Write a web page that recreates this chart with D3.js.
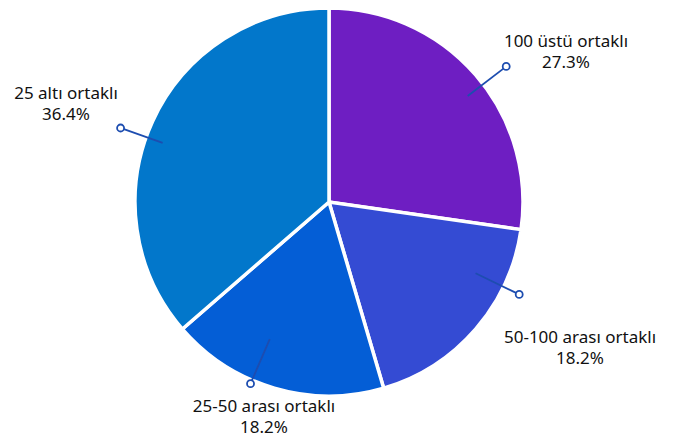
<!DOCTYPE html>
<html><head><meta charset="utf-8">
<script src="https://cdn.jsdelivr.net/npm/d3@7"></script>
<style>html,body{margin:0;padding:0;background:#fff;}svg{display:block;}</style>
</head><body>
<svg id="chart" width="675" height="442"></svg>
<script>
const categories = ["100 üstü ortaklı", "50-100 arası ortaklı", "25-50 arası ortaklı", "25 altı ortaklı"];
const values = [3, 2, 2, 4];
const percentLabels = ["27.3%", "18.2%", "18.2%", "36.4%"];
const colors = ["#6E1EC2", "#344BD3", "#045ED6", "#0277CB"];

// layout (not data): label leader geometry and text placement
const cx = 329, cy = 202, R = 194;
const leader = [
  {nudge: 3.5, r0: 0.90, r1: 1.15, tx: 566, ty: 47},
  {nudge: -15, r0: 0.84, r1: 1.09, tx: 580, ty: 343},
  {nudge: 7, r0: 0.77, r1: 1.02, tx: 264, ty: 412},
  {nudge: -5, r0: 0.91, r1: 1.14, tx: 66, ty: 99}
];

const svg = d3.select("#chart");
const g = svg.append("g").attr("transform", `translate(${cx},${cy})`);

const pie = d3.pie().sort(null).value(d => d)(values);
const arc = d3.arc().innerRadius(0).outerRadius(R);

g.selectAll("path.slice").data(pie).join("path")
  .attr("class", "slice")
  .attr("d", arc)
  .attr("fill", (d, i) => colors[i])
  .attr("stroke", "#fff")
  .attr("stroke-width", 3.5)
  .attr("stroke-linejoin", "miter");

const pt = (a, r) => [r * Math.sin(a), -r * Math.cos(a)];
const lineColor = "#1D4DB0";
pie.forEach((d, i) => {
  const L = leader[i];
  const a = (d.startAngle + d.endAngle) / 2 + L.nudge * Math.PI / 180;
  const p0 = pt(a, R * L.r0), p1 = pt(a, R * L.r1);
  const cr = 3.5;
  const dx = p1[0] - p0[0], dy = p1[1] - p0[1], len = Math.hypot(dx, dy);
  g.append("line")
    .attr("x1", p0[0]).attr("y1", p0[1])
    .attr("x2", p1[0] - dx / len * cr).attr("y2", p1[1] - dy / len * cr)
    .attr("stroke", lineColor).attr("stroke-width", 1.8);
  g.append("circle").attr("cx", p1[0]).attr("cy", p1[1]).attr("r", cr)
    .attr("fill", "#fff").attr("stroke", lineColor).attr("stroke-width", 1.8);
  const t = svg.append("text")
    .attr("x", L.tx).attr("y", L.ty)
    .attr("text-anchor", "middle")
    .attr("font-family", "'Noto Sans', 'Open Sans', sans-serif")
    .attr("font-size", 17)
    .attr("fill", "#111");
  t.append("tspan").attr("x", L.tx).attr("dy", 0).text(categories[i]);
  t.append("tspan").attr("x", L.tx).attr("dy", 21).text(percentLabels[i]);
});
</script>
</body></html>
